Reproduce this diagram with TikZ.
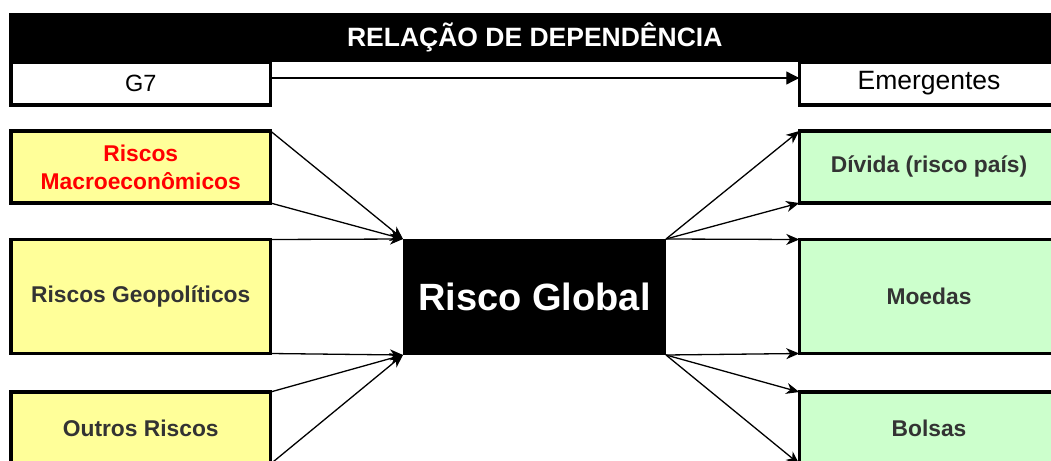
\documentclass[tikz,border=0pt]{standalone}
\usepackage{fontspec}
\setmainfont{Liberation Sans}
\usetikzlibrary{arrows.meta}

\definecolor{amarelo}{HTML}{FFFF99}
\definecolor{verde}{HTML}{CCFFCC}
\definecolor{cinza}{HTML}{333333}

\begin{document}
\begin{tikzpicture}[x=1pt, y=-1pt,
        caixa/.style={draw=black, line width=3.5pt, minimum width=259.5pt, inner sep=0pt, outer sep=0pt, align=center},
        risco/.style={caixa, fill=amarelo, text=cinza, font=\bfseries\fontsize{22.8}{28}\selectfont},
        mercado/.style={caixa, fill=verde, text=cinza, font=\bfseries\fontsize{22.8}{28}\selectfont},
        grupo/.style={caixa, fill=white, minimum height=43pt},
        seta/.style={-{Stealth[length=13pt,width=11pt,inset=4pt]}, line width=1.3pt}]
        \useasboundingbox (0,0) rectangle (1051,460);
        \clip (0,0) rectangle (1051,460);
        \node[grupo, font=\fontsize{23.5}{26}\selectfont] (g7) at (140.75,83.5) {G7};
        \node[grupo, font=\fontsize{26.5}{30}\selectfont] (emerg) at (929,83.5) {Emergentes};
        \node[fill=black, text=white, minimum width=1051pt, minimum height=49pt, inner sep=0pt, outer sep=0pt, font=\bfseries\fontsize{26.5}{30}\selectfont] (titulo) at (534.75,37.5) {RELAÇÃO DE DEPENDÊNCIA};
        \draw[-{Triangle[length=13pt,width=13pt]}, line width=1.3pt] ([yshift=5.5pt]g7.east) -- ([yshift=5.5pt]emerg.west);
        \node[risco, minimum height=72pt, text=red] (macro) at (140.75,167) {Riscos\\Macroeconômicos};
        \node[risco, minimum height=114pt] (geo) at (140.75,296.5) {Riscos Geopolíticos};
        \node[risco, minimum height=72pt] (outros) at (140.75,428) {Outros Riscos};
        \node[mercado, minimum height=72pt] (divida) at (929,167) {Dívida (risco país)};
        \node[mercado, minimum height=114pt] (moedas) at (929,296.5) {Moedas};
        \node[mercado, minimum height=72pt] (bolsas) at (929,428) {Bolsas};
        \node[fill=black, text=white, minimum width=263pt, minimum height=116pt, inner sep=0pt, outer sep=0pt, font=\bfseries\fontsize{38}{42}\selectfont] (global) at (534.5,297) {Risco Global};
        \draw[seta] (macro.north east) -- (global.north west);
        \draw[seta] (macro.south east) -- (global.north west);
        \draw[seta] (geo.north east) -- (global.north west);
        \draw[seta] (geo.south east) -- (global.south west);
        \draw[seta] (outros.north east) -- (global.south west);
        \draw[seta] (outros.south east) -- (global.south west);
        \draw[seta] (global.north east) -- (divida.north west);
        \draw[seta] (global.north east) -- (divida.south west);
        \draw[seta] (global.north east) -- (moedas.north west);
        \draw[seta] (global.south east) -- (moedas.south west);
        \draw[seta] (global.south east) -- (bolsas.north west);
        \draw[seta] (global.south east) -- (bolsas.south west);
\end{tikzpicture}
\end{document}
